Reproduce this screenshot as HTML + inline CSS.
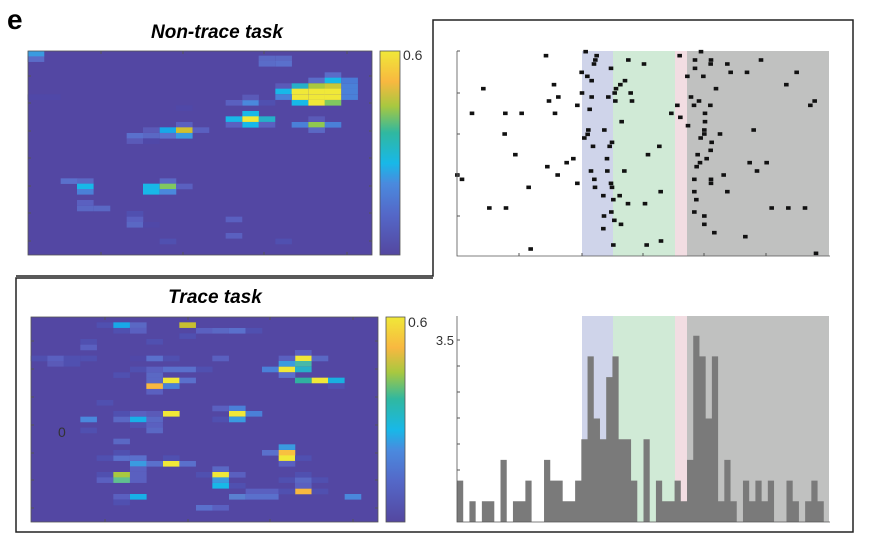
<!DOCTYPE html>
<html><head><meta charset="utf-8"><style>
html,body{margin:0;padding:0;background:#fff;}
svg{display:block;font-family:"Liberation Sans",sans-serif;}
</style></head><body>
<svg id="s" width="874" height="536" viewBox="0 0 874 536" xmlns="http://www.w3.org/2000/svg">
<defs>
<linearGradient id="par" x1="0" y1="1" x2="0" y2="0">
<stop offset="0" stop-color="#5447a0"/>
<stop offset="0.2" stop-color="#5468c8"/>
<stop offset="0.35" stop-color="#4a8ade"/>
<stop offset="0.45" stop-color="#18b8e8"/>
<stop offset="0.6" stop-color="#30b8a0"/>
<stop offset="0.73" stop-color="#a8c840"/>
<stop offset="0.85" stop-color="#f8b840"/>
<stop offset="1" stop-color="#f0e838"/>
</linearGradient>
</defs>
<text x="7" y="29" font-size="28" font-weight="bold">e</text>
<text x="217" y="38" font-size="19" font-weight="bold" font-style="italic" text-anchor="middle">Non-trace task</text>
<text x="215" y="303" font-size="19" font-weight="bold" font-style="italic" text-anchor="middle">Trace task</text>
<!-- frames -->
<path d="M16 276 H433 V20 H853 V532 H16 V278 H433" fill="none" stroke="#222" stroke-width="1.5"/>
<g id="hm1"></g><g id="hm2"></g><g id="rast"></g><g id="hist"></g>
<rect x="380" y="51" width="20" height="204" fill="url(#par)" stroke="#555" stroke-width="0.8"/>
<text x="403" y="60" font-size="14" fill="#333">0.6</text>
<rect x="386" y="317" width="19" height="205" fill="url(#par)" stroke="#555" stroke-width="0.8"/>
<text x="408" y="327" font-size="14" fill="#333">0.6</text>
<text x="58" y="437" font-size="14" fill="#333">0</text>
<text x="454" y="345" font-size="13" fill="#333" text-anchor="end">3.5</text>
</svg>
<script>
var NS="http://www.w3.org/2000/svg";
function el(p,t,a){var e=document.createElementNS(NS,t);for(var k in a)e.setAttribute(k,a[k]);p.appendChild(e);return e;}
var bg='#5347a3';
// heatmap 1
var g1=document.getElementById('hm1');
el(g1,'rect',{x:28,y:51,width:344,height:204,fill:bg});
var c1=[[83,153,'#3a9be0'],[83,169,'#5a6cc8'],[776,167,'#5a68c4'],[826,167,'#5a68c4'],[776,183,'#5a6cc8'],[826,183,'#5a70cc'],[83,283,'#5048a8'],[132,283,'#5048a8'],[974,217,'#5a6cc8'],[925,233,'#5a6cc8'],[974,233,'#18b8e8'],[1024,233,'#4a7ad6'],[826,250,'#5a5ab8'],[875,250,'#26b0c8'],[925,250,'#a8c840'],[974,250,'#c8c838'],[1024,250,'#4a80d8'],[826,266,'#18b8e8'],[875,266,'#f0e838'],[925,266,'#f0e838'],[974,266,'#f0e838'],[1024,266,'#4a80d8'],[875,283,'#f0e838'],[826,283,'#4a80d8'],[925,283,'#f0e838'],[974,283,'#f0e838'],[1024,283,'#4a80d8'],[875,300,'#18b8e8'],[925,300,'#f0e838'],[974,300,'#80c860'],[677,300,'#5a60c0'],[727,300,'#4a88dc'],[776,300,'#5050b0'],[727,284,'#5a5ab8'],[528,316,'#5048a8'],[727,333,'#18b8e8'],[677,349,'#18b8e8'],[727,349,'#f0e838'],[776,349,'#26b0c8'],[677,366,'#5a60c0'],[727,366,'#18b8e8'],[776,366,'#5a60c0'],[925,349,'#5a5ab8'],[875,366,'#4a80d8'],[925,366,'#90c850'],[974,366,'#4a80d8'],[925,382,'#5a68c4'],[528,366,'#5a60c0'],[429,382,'#5a5ab8'],[479,382,'#18a8e8'],[528,382,'#d0c030'],[578,382,'#5a60c0'],[380,399,'#5a70cc'],[429,399,'#5a68c4'],[479,399,'#5a70cc'],[528,399,'#3a9be0'],[380,415,'#5a5ab8'],[429,415,'#5048a8'],[182,535,'#5a70cc'],[231,535,'#5a68c4'],[231,551,'#18b8e8'],[231,567,'#4a80d8'],[479,535,'#5a68c4'],[429,551,'#18b8e8'],[479,551,'#80c860'],[528,551,'#5a60c0'],[429,567,'#18b8e8'],[479,567,'#4a88dc'],[231,600,'#5a60c0'],[231,617,'#5a68c4'],[281,617,'#5a68c4'],[380,633,'#5050b0'],[380,650,'#5a60c0'],[380,666,'#5a68c4'],[429,666,'#5048a8'],[677,650,'#5a60c0'],[677,699,'#5a60c0'],[479,716,'#5050b0'],[826,716,'#5050b0']];
c1.forEach(function(c){el(g1,'rect',{x:c[0]/3,y:c[1]/3,width:16.6,height:5.6,fill:c[2]});});
el(g1,'rect',{x:28,y:51,width:344,height:204,fill:'none',stroke:'#555','stroke-width':0.8});
[101,183,264,347].forEach(function(x){el(g1,'line',{x1:x,x2:x,y1:255,y2:252,stroke:'#555'});el(g1,'line',{x1:x,x2:x,y1:51,y2:54,stroke:'#555'});});
[76,103,131,158,186,213,241].forEach(function(y){el(g1,'line',{x1:28,x2:31,y1:y,y2:y,stroke:'#555'});el(g1,'line',{x1:372,x2:369,y1:y,y2:y,stroke:'#555'});});
// heatmap 2
var g2=document.getElementById('hm2');
el(g2,'rect',{x:31,y:317,width:347,height:205,fill:bg});
var c2=[[290,157,'#5050b0'],[340,157,'#18a8e8'],[390,157,'#5a68c4'],[340,174,'#5050b0'],[390,174,'#5a60c0'],[538,157,'#c8c030'],[588,174,'#5a60c0'],[637,174,'#5a68c4'],[687,174,'#5a70cc'],[737,174,'#5050b0'],[538,190,'#5050b0'],[241,207,'#5050b0'],[241,224,'#5a60c0'],[439,207,'#5050b0'],[92,257,'#5050b0'],[142,257,'#5a60c0'],[191,257,'#5050b0'],[241,257,'#5050b0'],[142,273,'#5a5ab8'],[191,273,'#5050b0'],[390,257,'#5048a8'],[439,257,'#5a70cc'],[489,257,'#5050b0'],[637,257,'#5a60c0'],[390,290,'#5050b0'],[439,290,'#5a60c0'],[489,290,'#5a70cc'],[538,290,'#5a70cc'],[588,290,'#5050b0'],[340,307,'#5050b0'],[439,307,'#5a68c4'],[489,323,'#f0e838'],[538,323,'#5a70cc'],[439,323,'#5a68c4'],[439,340,'#f8b840'],[489,340,'#4a80d8'],[439,357,'#5a60c0'],[885,240,'#5a60c0'],[885,257,'#f0e838'],[935,257,'#5a68c4'],[836,257,'#5a60c0'],[836,273,'#3a9be0'],[885,273,'#48b8a8'],[786,290,'#4a80d8'],[836,290,'#f0e838'],[885,290,'#28b0c8'],[836,307,'#5a70cc'],[885,323,'#30b0a0'],[935,323,'#f0e838'],[984,323,'#18b0e0'],[984,340,'#5050b0'],[290,390,'#5050b0'],[637,407,'#5a60c0'],[687,407,'#4a80d8'],[687,423,'#f0e838'],[737,423,'#4a80d8'],[637,440,'#5050b0'],[687,440,'#3a9be0'],[241,440,'#4a88dc'],[340,423,'#5050b0'],[390,423,'#5a60c0'],[439,423,'#5a5ab8'],[489,423,'#f0e838'],[340,440,'#5a68c4'],[390,440,'#18b0e8'],[439,440,'#5a68c4'],[390,457,'#5050b0'],[439,457,'#5a60c0'],[439,473,'#5a68c4'],[241,473,'#5050b0'],[340,506,'#5a68c4'],[290,556,'#5050b0'],[340,556,'#5a70cc'],[390,556,'#5a70cc'],[340,540,'#5050b0'],[390,573,'#3a9be0'],[439,573,'#5a70cc'],[489,573,'#f0e838'],[538,573,'#5a70cc'],[489,556,'#5050b0'],[786,540,'#5a70cc'],[836,523,'#3a9be0'],[836,540,'#f8c040'],[836,556,'#f0e838'],[885,556,'#5050b0'],[836,573,'#5a60c0'],[290,606,'#5050b0'],[340,606,'#a8c840'],[390,606,'#5a60c0'],[290,622,'#5a60c0'],[340,622,'#60c090'],[390,622,'#5a60c0'],[390,589,'#5a60c0'],[588,606,'#5050b0'],[637,589,'#5a68c4'],[637,606,'#f0e838'],[687,606,'#5a60c0'],[637,622,'#3a9be0'],[637,639,'#18b8e8'],[687,639,'#5050b0'],[836,622,'#5050b0'],[885,622,'#5a68c4'],[935,622,'#5050b0'],[885,606,'#5050b0'],[885,639,'#5a60c0'],[885,656,'#f8b840'],[935,656,'#5050b0'],[737,656,'#5a60c0'],[786,656,'#5a60c0'],[836,656,'#5050b0'],[340,672,'#5a60c0'],[390,672,'#18b0e8'],[340,689,'#5050b0'],[687,672,'#5a80d0'],[737,672,'#5a70cc'],[786,672,'#5a70cc'],[1034,672,'#4a88dc'],[588,705,'#5a70cc'],[637,705,'#5a60c0']];
c2.forEach(function(c){el(g2,'rect',{x:c[0]/3,y:270+c[1]/3,width:16.6,height:5.6,fill:c[2]});});
el(g2,'rect',{x:31,y:317,width:347,height:205,fill:'none',stroke:'#555','stroke-width':0.8});
[105,188,270,353].forEach(function(x){el(g2,'line',{x1:x,x2:x,y1:522,y2:519,stroke:'#555'});el(g2,'line',{x1:x,x2:x,y1:317,y2:320,stroke:'#555'});});
[341,369,397,425,453,480,508].forEach(function(y){el(g2,'line',{x1:31,x2:34,y1:y,y2:y,stroke:'#555'});el(g2,'line',{x1:378,x2:375,y1:y,y2:y,stroke:'#555'});});
// shading
function shade(g,y0,y1){
 el(g,'rect',{x:582,y:y0,width:31,height:y1-y0,fill:'#cfd4ea'});
 el(g,'rect',{x:613,y:y0,width:62,height:y1-y0,fill:'#d0ead6'});
 el(g,'rect',{x:675,y:y0,width:12,height:y1-y0,fill:'#f2dde2'});
 el(g,'rect',{x:687,y:y0,width:142,height:y1-y0,fill:'#c0c1c0'});
}
var gr=document.getElementById('rast');
shade(gr,51,256);
var d=[[318,77],[437,65],[470,77],[466,90],[462,102],[565,90],[612,102],[513,115],[425,127],[442,139],[455,152],[555,152],[541,164],[528,176],[342,164],[130,176],[426,189],[455,201],[505,201],[524,189],[572,189],[526,213],[576,213],[355,201],[327,213],[412,226],[449,238],[96,250],[196,250],[245,250],[345,250],[545,275],[445,300],[443,313],[433,324],[493,300],[516,337],[509,349],[459,349],[194,312],[226,374],[400,386],[380,398],[322,410],[501,386],[453,423],[502,423],[553,423],[353,435],[52,435],[66,448],[463,448],[513,460],[516,472],[412,460],[465,472],[266,472],[490,497],[539,497],[520,509],[564,521],[615,521],[148,534],[198,534],[514,546],[492,558],[523,571],[543,583],[490,596],[520,645],[620,645],[663,633],[272,657],[658,349],[624,374],[662,485],[719,77],[783,65],[765,90],[813,90],[862,102],[963,90],[812,102],[765,115],[872,127],[921,127],[1070,127],[742,139],[790,139],[1039,164],[828,176],[753,201],[777,213],[762,226],[811,226],[1124,213],[1111,226],[712,226],[694,250],[721,262],[795,250],[795,275],[744,287],[793,300],[941,300],[840,312],[793,312],[782,324],[815,337],[812,361],[773,374],[800,386],[780,398],[770,410],[929,398],[980,398],[951,423],[851,435],[763,448],[813,448],[813,460],[763,485],[862,485],[769,509],[995,534],[1045,534],[1095,534],[763,546],[793,558],[793,583],[823,608],[916,620],[1128,670]];
d.forEach(function(p){el(gr,'rect',{x:440+p[0]/3-2.3,y:30+p[1]/3-1.8,width:4.6,height:3.6,fill:'#111'});});
el(gr,'path',{d:'M457 51 V256 H830',fill:'none',stroke:'#555','stroke-width':0.8});
[51,93,134,175,216].forEach(function(y){el(gr,'line',{x1:457,x2:460,y1:y,y2:y,stroke:'#555'});});
[519,582,643,704,766].forEach(function(x){el(gr,'line',{x1:x,x2:x,y1:256,y2:253,stroke:'#555'});});
// histogram
var gh=document.getElementById('hist');
shade(gh,316,522);
var h=[2,0,1,0,1,1,0,3,0,1,1,2,0,0,3,2,2,1,1,2,4,8,5,4,7,8,4,4,2,0,4,0,2,1,1,2,1,3,9,8,5,8,1,3,1,0,2,1,2,1,2,0,0,2,1,0,1,2,1,0];
var bw=(830-457)/60, u=20.7, pd='M457 522';
h.forEach(function(v,i){var x0=457+i*bw;pd+=' L'+x0.toFixed(2)+' '+(522-v*u).toFixed(2)+' L'+(x0+bw).toFixed(2)+' '+(522-v*u).toFixed(2);});
pd+=' L830 522 Z';
el(gh,'path',{d:pd,fill:'#7a7a7a'});
el(gh,'path',{d:'M457 316 V522 H830',fill:'none',stroke:'#555','stroke-width':0.8});
[340,366,392,418,444,470].forEach(function(y){el(gh,'line',{x1:457,x2:460,y1:y,y2:y,stroke:'#555'});});
</script>
</body></html>
